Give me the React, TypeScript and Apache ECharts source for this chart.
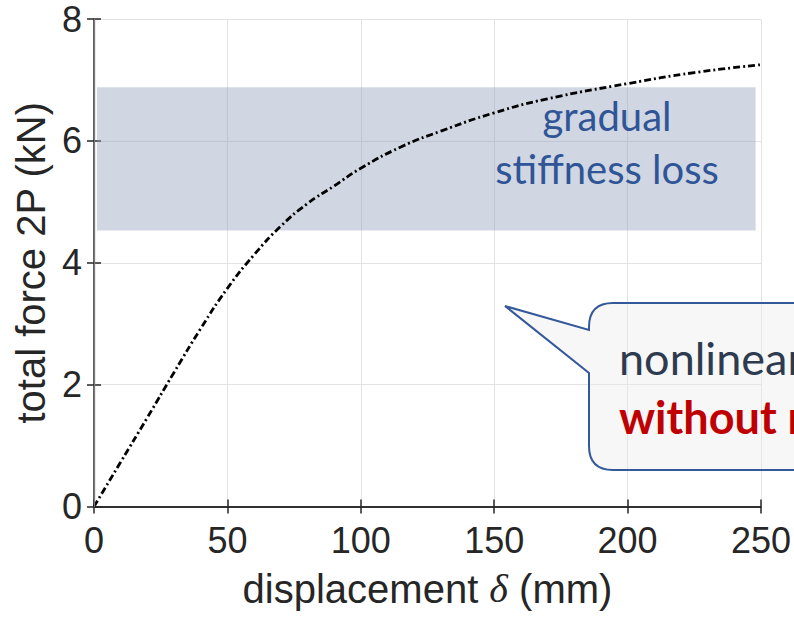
import React, { useEffect, useRef } from "react";
import * as echarts from "echarts";

// displacement δ (mm)
const displacement = [0, 10, 20, 30, 40, 50, 60, 70, 80, 90, 100, 115, 130, 150, 170, 200, 225, 250];
// total force 2P (kN)
const force = [0, 0.73, 1.46, 2.2, 2.92, 3.58, 4.13, 4.6, 4.97, 5.26, 5.55, 5.9, 6.16, 6.46, 6.69, 6.94, 7.12, 7.25];

const xTicks = { min: 0, max: 250, interval: 50 };
const yTicks = { min: 0, max: 8, interval: 2 };

// shaded "gradual stiffness loss" band (data coords)
const bandX = [1.1, 248];
const bandY = [4.53, 6.88];

const bandText = ["gradual", "stiffness loss"];
const calloutText = ["nonlinear response", "without rupture"];

const BUBBLE_D =
  "M 613 303 L 900 303 L 900 470 L 613 470 Q 589 470 589 446 L 589 373 L 505 306 L 589 330 L 589 327 Q 589 303 613 303 Z";

let registered = false;
function registerBubble() {
  if (registered) return;
  registered = true;
  echarts.graphic.registerShape("bubble", echarts.graphic.extendPath(BUBBLE_D, {}) as any);
}

const AXIS_FONT = "'Liberation Sans', Arial, sans-serif";
const DARK = "#262626";

export default function App() {
  const ref = useRef<HTMLDivElement>(null);

  useEffect(() => {
    if (!ref.current) return;
    registerBubble();
    const chart = echarts.init(ref.current, undefined, { renderer: "svg" });
    const axisLine = { show: true, lineStyle: { color: DARK, width: 1.5 } };
    const axisTick = { show: true, inside: true, length: 7, lineStyle: { color: DARK, width: 1.5 } };
    const splitLine = { show: true, lineStyle: { color: "#e3e3e3", width: 1 } };

    chart.setOption({
      animation: false,
      backgroundColor: "#ffffff",
      grid: { left: 94, right: 32, top: 19, bottom: 110.5, containLabel: false },
      xAxis: [
        {
          type: "value",
          position: "bottom",
          ...xTicks,
          axisLine,
          axisTick,
          splitLine,
          axisLabel: { fontSize: 36, color: DARK, fontFamily: AXIS_FONT, margin: 16 },
          name: "displacement {d|δ} (mm)",
          nameLocation: "middle",
          nameGap: 62,
          nameTextStyle: {
            fontSize: 40,
            color: DARK,
            fontFamily: AXIS_FONT,
            rich: {
              d: { fontSize: 40, color: DARK, fontStyle: "italic", fontFamily: "'Liberation Serif', 'DejaVu Serif', serif" },
            },
          },
        },
        {
          type: "value",
          position: "top",
          ...xTicks,
          axisLine,
          axisTick,
          splitLine: { show: false },
          axisLabel: { show: false },
        },
      ],
      yAxis: [
        {
          type: "value",
          position: "left",
          ...yTicks,
          axisLine,
          axisTick,
          splitLine,
          axisLabel: { fontSize: 36, color: DARK, fontFamily: AXIS_FONT, margin: 12 },
          name: "total force 2P (kN)",
          nameLocation: "middle",
          nameGap: 42,
          nameTextStyle: { fontSize: 40, color: DARK, fontFamily: AXIS_FONT },
        },
        {
          type: "value",
          position: "right",
          ...yTicks,
          z: 10,
          axisLine: { show: true, lineStyle: { color: "#7a7a7a", width: 1.3 } },
          axisTick,
          splitLine: { show: false },
          axisLabel: { show: false },
        },
      ],
      series: [
        {
          type: "line",
          xAxisIndex: 0,
          yAxisIndex: 0,
          data: displacement.map((x, i) => [x, force[i]]),
          smooth: true,
          showSymbol: false,
          symbol: "none",
          z: 2,
          lineStyle: { color: "#000000", width: 2.8, type: [7, 3, 2, 3] },
        },
        {
          type: "line",
          xAxisIndex: 0,
          yAxisIndex: 0,
          data: [],
          z: 3,
          markArea: {
            silent: true,
            itemStyle: { color: "rgba(141,158,185,0.41)" },
            data: [[{ xAxis: bandX[0], yAxis: bandY[1] }, { xAxis: bandX[1], yAxis: bandY[0] }]],
          },
        },
      ],
      graphic: [
        {
          type: "text",
          x: 607,
          y: 116,
          z: 5,
          style: { text: bandText[0], fontSize: 40, fontFamily: "Lato", fill: "#2f5597", align: "center", verticalAlign: "middle" },
        },
        {
          type: "text",
          x: 607,
          y: 169,
          z: 5,
          style: { text: bandText[1], fontSize: 40, fontFamily: "Lato", fill: "#2f5597", align: "center", verticalAlign: "middle" },
        },
        {
          type: "bubble",
          x: 0,
          y: 0,
          z: 4,
          style: { fill: "rgba(236,236,236,0.4)", stroke: "#34599b", lineWidth: 2 },
        },
        {
          type: "text",
          x: 619,
          y: 358,
          z: 5,
          style: { text: calloutText[0], fontSize: 45, fontFamily: "Lato", fill: "#2e3a4f", align: "left", verticalAlign: "middle" },
        },
        {
          type: "text",
          x: 619,
          y: 417,
          z: 5,
          style: { text: calloutText[1], fontSize: 45, fontWeight: "bold", fontFamily: "Lato", fill: "#c00000", align: "left", verticalAlign: "middle" },
        },
      ],
    });
    return () => chart.dispose();
  }, []);

  return <div ref={ref} style={{ position: "fixed", left: 0, top: 0, width: 794, height: 617 }} />;
}
